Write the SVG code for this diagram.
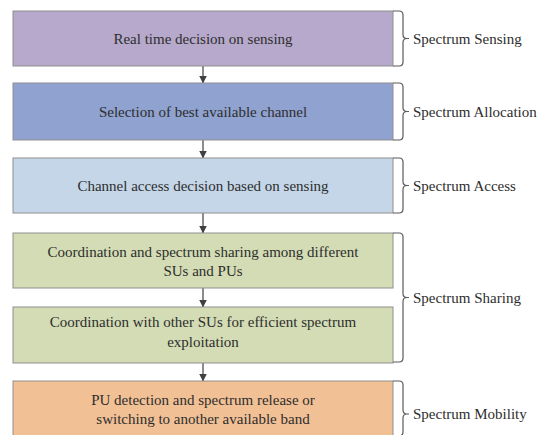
<svg xmlns="http://www.w3.org/2000/svg" width="548" height="435" viewBox="0 0 548 435">
<defs>
<marker id="ah" markerWidth="8" markerHeight="9" refX="7.5" refY="4" orient="auto" markerUnits="userSpaceOnUse">
<path d="M0,0 L8,4 L0,8 Z" fill="#404040"/>
</marker>
<style>
.box{stroke:#8f8f8f;stroke-width:1}
.t{font-family:"Liberation Serif","Times New Roman",serif;font-size:15px;fill:#2e2e2e;text-anchor:middle}
.l{font-family:"Liberation Serif","Times New Roman",serif;font-size:15px;fill:#2e2e2e}
.br{fill:none;stroke:#5a5a5a;stroke-width:1.2}
.ar{stroke:#404040;stroke-width:1.2;fill:none}
</style>
</defs>
<rect width="548" height="435" fill="#ffffff"/>
<g id="connectors">
<line class="ar" x1="203" y1="66" x2="203" y2="83" marker-end="url(#ah)"/>
<line class="ar" x1="203" y1="140" x2="203" y2="158" marker-end="url(#ah)"/>
<line class="ar" x1="203" y1="213" x2="203" y2="233" marker-end="url(#ah)"/>
<line class="ar" x1="203" y1="288" x2="203" y2="307" marker-end="url(#ah)"/>
<line class="ar" x1="203" y1="363" x2="203" y2="381" marker-end="url(#ah)"/>
</g>
<g id="n1">
<rect class="box" x="13" y="11" width="380" height="55" fill="#b6a9cb"/>
<text class="t" x="203" y="44">Real time decision on sensing</text>
</g>
<g id="n2">
<rect class="box" x="13" y="83" width="380" height="57" fill="#8fa2d0"/>
<text class="t" x="203" y="117">Selection of best available channel</text>
</g>
<g id="n3">
<rect class="box" x="13" y="158" width="380" height="55" fill="#c4d6e8"/>
<text class="t" x="203" y="191">Channel access decision based on sensing</text>
</g>
<g id="n4">
<rect class="box" x="13" y="233" width="380" height="55" fill="#d3dcb4"/>
<text class="t" x="203" y="257">Coordination and spectrum sharing among different</text>
<text class="t" x="203" y="276">SUs and PUs</text>
</g>
<g id="n5">
<rect class="box" x="13" y="307" width="380" height="56" fill="#d3dcb4"/>
<text class="t" x="203" y="327">Coordination with other SUs for efficient spectrum</text>
<text class="t" x="203" y="347">exploitation</text>
</g>
<g id="n6">
<rect class="box" x="13" y="381" width="380" height="60" fill="#f2c095"/>
<text class="t" x="203" y="405">PU detection and spectrum release or</text>
<text class="t" x="203" y="424">switching to another available band</text>
</g>
<g id="braces">
<path class="br" d="M393,11 H399 Q403,11 403,15 V34.5 Q403,38.5 407,38.5 H409 M407,38.5 Q403,38.5 403,42.5 V62 Q403,66 399,66 H393"/>
<path class="br" d="M393,83 H399 Q403,83 403,87 V107.5 Q403,111.5 407,111.5 H409 M407,111.5 Q403,111.5 403,115.5 V136 Q403,140 399,140 H393"/>
<path class="br" d="M393,158 H399 Q403,158 403,162 V181.5 Q403,185.5 407,185.5 H409 M407,185.5 Q403,185.5 403,189.5 V209 Q403,213 399,213 H393"/>
<path class="br" d="M393,233 H399 Q403,233 403,237 V293.5 Q403,297.5 407,297.5 H409 M407,297.5 Q403,297.5 403,301.5 V358 Q403,362 399,362 H393"/>
<path class="br" d="M393,381 H399 Q403,381 403,385 V410 Q403,414 407,414 H409 M407,414 Q403,414 403,418 V432 Q403,436 399,436 H393"/>
</g>
<g id="labels">
<text class="l" x="413" y="44">Spectrum Sensing</text>
<text class="l" x="413" y="117">Spectrum Allocation</text>
<text class="l" x="413" y="191">Spectrum Access</text>
<text class="l" x="413" y="303">Spectrum Sharing</text>
<text class="l" x="413" y="419">Spectrum Mobility</text>
</g>
</svg>
